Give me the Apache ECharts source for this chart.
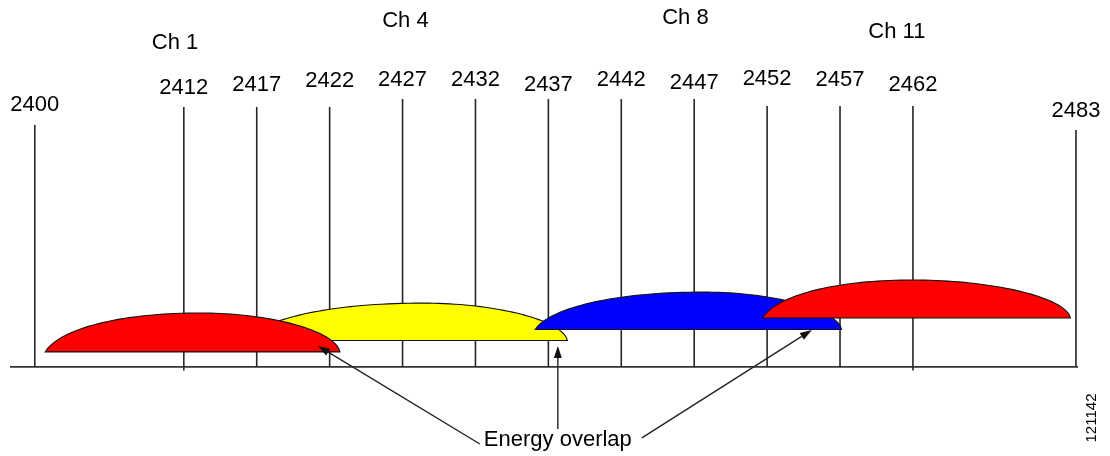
<!DOCTYPE html>
<html><head><meta charset="utf-8">
<script src="https://cdn.jsdelivr.net/npm/echarts@6/dist/echarts.min.js"></script>
<style>html,body{margin:0;padding:0;background:#fff}#c{width:1110px;height:456px}</style>
</head><body><div id="c"></div>
<script>
// ---- data (MHz on x, relative level on y) ----
const tickFreqs = [2400, 2412, 2417, 2422, 2427, 2432, 2437, 2442, 2447, 2452, 2457, 2462, 2483];
const tickLabels = tickFreqs.map(String);
const channelNames = ['Ch 1', 'Ch 4', 'Ch 8', 'Ch 11'];
const channelStart = [2402.5, 2416.3, 2436.1, 2451.7];
const channelEnd = [2422.7, 2438.3, 2457.1, 2472.8];
const channelPeakFreq = [2413.1, 2428.4, 2447.6, 2462.0];
const channelFloor = [4.1, 7.2, 10.2, 13.35];
const channelPeak = [14.7, 17.4, 20.4, 23.7];
const overlapText = 'Energy overlap';
const overlapTipFreq = [2421.2, 2437.65, 2455.07];
const overlapTipLevel = [5.72, 5.72, 10.08];
const figureId = '121142';

// ---- layout (schematic placement) ----
const axisMin = 2398.3, axisMax = 2483.14;
const tickLineTop = [65.96, 70.86, 70.86, 70.86, 73.04, 73.04, 73.04, 73.04, 73.04, 71.13, 71.13, 71.13, 64.59];
const tickLineBottom = [0, -1, 0, 0, 0, 0, 0, 0, 0, 0, 0, -1, 0];
const tickLabelLevel = [71.41, 76.04, 76.86, 77.95, 78.22, 78.22, 76.86, 78.22, 77.41, 78.49, 78.22, 76.86, 69.77];
const channelLabelFreq = [2411.4, 2427.2, 2446.4, 2460.9];
const channelLabelLevel = [88.3, 94.3, 95.1, 91.3];
const channelColors = ['#ff0000', '#ffff00', '#0000ff', '#ff0000'];
const channelZ = [2, 1, 3, 4];
const overlapFromFreq = [2432.3, 2437.65, 2443.41];
const overlapFromLevel = [-21.0, -16.9, -19.35];
const overlapLabelFreq = 2437.65, overlapLabelLevel = -19.9;

const FONT = '"Liberation Sans", Arial, Helvetica, sans-serif';

function bez(p0, c1, c2, p1, n, out) {
  for (let k = 0; k <= n; k++) {
    const t = k / n, u = 1 - t;
    out.push([
      u*u*u*p0[0] + 3*u*u*t*c1[0] + 3*u*t*t*c2[0] + t*t*t*p1[0],
      u*u*u*p0[1] + 3*u*u*t*c1[1] + 3*u*t*t*c2[1] + t*t*t*p1[1]
    ]);
  }
}

const chart = echarts.init(document.getElementById('c'), null, {renderer: 'canvas'});
chart.setOption({
  animation: false,
  backgroundColor: '#fff',
  grid: {left: 10, right: 32, top: 0, bottom: 1},
  xAxis: {
    type: 'value', min: axisMin, max: axisMax,
    breaks: [
      {start: 2400.3, end: 2402.3, gap: 0.22},
      {start: 2472.95, end: 2482.9, gap: 0.13}
    ],
    breakArea: {show: false},
    axisLine: {show: false},
    axisTick: {show: false}, axisLabel: {show: false}, splitLine: {show: false}
  },
  yAxis: {type: 'value', min: -24, max: 100, show: false, splitLine: {show: false}},
  graphic: [{
    type: 'text', x: 1092, y: 418, rotation: Math.PI / 2,
    style: {text: figureId, font: '15px ' + FONT, fill: '#000', align: 'center', verticalAlign: 'middle'}
  }],
  series: [
    {
      type: 'custom', name: 'baseline', z: 1, clip: false,
      data: [[axisMin, 0, axisMax]], encode: {x: [0, 2], y: 1},
      renderItem: (params, api) => {
        const a = api.coord([api.value(0), 0]);
        const b = api.coord([api.value(2), 0]);
        return {type: 'line', shape: {x1: a[0], y1: a[1], x2: b[0], y2: b[1]}, style: {stroke: '#333', lineWidth: 1.8}};
      }
    },
    {
      type: 'custom', name: 'ticks', z: 1, clip: false,
      data: tickFreqs.map(f => [f, 0]), encode: {x: 0, y: 1},
      renderItem: (params, api) => {
        const i = params.dataIndex, f = api.value(0);
        const a = api.coord([f, tickLineBottom[i]]);
        const b = api.coord([f, tickLineTop[i]]);
        const l = api.coord([f, tickLabelLevel[i]]);
        return {type: 'group', children: [
          {type: 'line', shape: {x1: a[0], y1: a[1], x2: b[0], y2: b[1]}, style: {stroke: '#262626', lineWidth: 1.6}},
          {type: 'text', x: l[0], y: l[1], style: {text: tickLabels[i], font: '22px ' + FONT, fill: '#000', align: 'center', verticalAlign: 'middle'}}
        ]};
      }
    },
    {
      type: 'custom', name: 'channels', z: 3, clip: false,
      data: channelNames.map((n, i) => [channelStart[i], channelEnd[i], channelPeakFreq[i], channelFloor[i], channelPeak[i]]),
      encode: {x: [0, 1, 2], y: [3, 4]},
      renderItem: (params, api) => {
        const i = params.dataIndex;
        const L = api.coord([api.value(0), api.value(3)]);
        const R = api.coord([api.value(1), api.value(3)]);
        const P = api.coord([api.value(2), api.value(4)]);
        const h = L[1] - P[1], dl = P[0] - L[0], dr = R[0] - P[0];
        const pts = [];
        bez(L, [L[0] + 0.08 * dl, L[1] - 0.55 * h], [L[0] + 0.45 * dl, P[1]], P, 40, pts);
        bez(P, [P[0] + 0.5 * dr, P[1]], [R[0] - 0.03 * dr, R[1] - 0.55 * h], R, 40, pts);
        const lab = api.coord([channelLabelFreq[i], channelLabelLevel[i]]);
        return {type: 'group', children: [
          {type: 'polygon', z2: channelZ[i], shape: {points: pts}, style: {fill: channelColors[i], stroke: '#111', lineWidth: 1.1}},
          {type: 'text', x: lab[0], y: lab[1], style: {text: channelNames[i], font: '22px ' + FONT, fill: '#000', align: 'center', verticalAlign: 'middle'}}
        ]};
      }
    },
    {
      type: 'custom', name: 'overlap', z: 5, clip: false,
      data: overlapTipFreq.map((f, i) => [f, overlapTipLevel[i]]), encode: {x: 0, y: 1},
      renderItem: (params, api) => {
        const i = params.dataIndex;
        const tip = api.coord([api.value(0), api.value(1)]);
        const from = api.coord([overlapFromFreq[i], overlapFromLevel[i]]);
        const dx = tip[0] - from[0], dy = tip[1] - from[1];
        const len = Math.sqrt(dx * dx + dy * dy), ux = dx / len, uy = dy / len;
        const hl = 12, hw = 4;
        const bx = tip[0] - ux * hl, by = tip[1] - uy * hl;
        const children = [
          {type: 'line', shape: {x1: from[0], y1: from[1], x2: bx, y2: by}, style: {stroke: '#222', lineWidth: 1.4}},
          {type: 'polygon', shape: {points: [tip, [bx - uy * hw, by + ux * hw], [bx + uy * hw, by - ux * hw]]}, style: {fill: '#111'}}
        ];
        if (i === 1) {
          const t = api.coord([overlapLabelFreq, overlapLabelLevel]);
          children.push({type: 'text', x: t[0], y: t[1], style: {text: overlapText, font: '22px ' + FONT, fill: '#000', align: 'center', verticalAlign: 'middle'}});
        }
        return {type: 'group', children};
      }
    }
  ]
});
</script></body></html>
